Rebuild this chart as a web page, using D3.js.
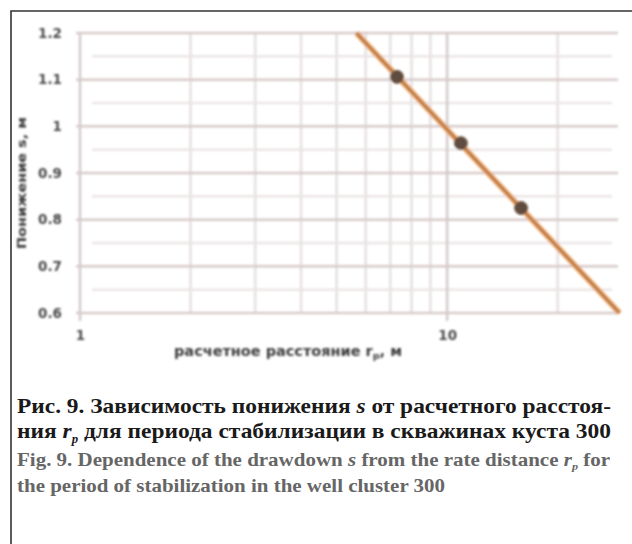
<!DOCTYPE html>
<html><head><meta charset="utf-8">
<script src="https://cdn.jsdelivr.net/npm/d3@7"></script>
<style>body{margin:0;background:#fff}svg{display:block}</style>
</head><body>
<script>
// data
const pointR = [7.3, 10.9, 15.9];          // расчетное расстояние r_p, м
const pointS = [1.106, 0.964, 0.825];      // понижение s, м
const trendR = [5.66, 29.5];               // trend line ends
const trendS = [1.2, 0.6];
const yTicks = [0.6, 0.7, 0.8, 0.9, 1.0, 1.1, 1.2];
const yTickLabels = ["0.6", "0.7", "0.8", "0.9", "1", "1.1", "1.2"];
const xTicks = [1, 10];
const xTickLabels = ["1", "10"];
const xMinor = [2, 3, 4, 5, 6, 7, 8, 9, 20];
const yMinor = [0.65, 0.75, 0.85, 0.95, 1.05, 1.15];

const W = 632, H = 544;
const svg = d3.select("body").append("svg").attr("width", W).attr("height", H);
const defs = svg.append("defs");
defs.append("filter").attr("id", "soft").append("feGaussianBlur").attr("stdDeviation", 0.8);

// frame
svg.append("path").attr("d", "M11,544V11H632").attr("fill", "none")
  .attr("stroke", "#333").attr("stroke-width", 1.6);

const x = d3.scaleLog().domain([1, 29.2]).range([80, 618]);
const y = d3.scaleLinear().domain([0.6, 1.2]).range([313, 33]);

const g = svg.append("g").attr("filter", "url(#soft)");

// vertical minor grid
g.append("g").selectAll("line").data(xMinor).join("line")
  .attr("x1", d => x(d)).attr("x2", d => x(d)).attr("y1", y(1.2)).attr("y2", y(0.6))
  .attr("stroke", "#e6e0e0").attr("stroke-width", 2.5);
// horizontal minor grid
g.append("g").selectAll("line").data(yMinor).join("line")
  .attr("x1", 92).attr("x2", 612).attr("y1", d => y(d)).attr("y2", d => y(d))
  .attr("stroke", "#ebe5e5").attr("stroke-width", 2.5);
// major horizontal
g.append("g").selectAll("line").data(yTicks).join("line")
  .attr("x1", 76).attr("x2", 618).attr("y1", d => y(d)).attr("y2", d => y(d))
  .attr("stroke", "#d8caca").attr("stroke-width", 2.5);
// major vertical
g.append("g").selectAll("line").data(xTicks).join("line")
  .attr("x1", d => x(d)).attr("x2", d => x(d)).attr("y1", y(1.2)).attr("y2", y(0.6) + 8)
  .attr("stroke", "#d4caca").attr("stroke-width", 2.5);

// tick labels via d3 axes (no domain)
const yAxis = d3.axisLeft(y).tickValues(yTicks).tickFormat((d, i) => yTickLabels[i]).tickSize(0).tickPadding(0);
const ya = g.append("g").attr("transform", "translate(62,0)").call(yAxis);
ya.select(".domain").remove();
ya.selectAll("text").attr("font-family", "DejaVu Sans, sans-serif").attr("font-size", 13.5)
  .attr("font-weight", "bold").attr("fill", "#4a4a4a");

const xAxis = d3.axisBottom(x).tickValues(xTicks).tickFormat((d, i) => xTickLabels[i]).tickSize(0).tickPadding(0);
const xa = g.append("g").attr("transform", "translate(0,330)").call(xAxis);
xa.select(".domain").remove();
xa.selectAll("text").attr("font-family", "DejaVu Sans, sans-serif").attr("font-size", 13.5)
  .attr("font-weight", "bold").attr("fill", "#4a4a4a");

// axis titles
g.append("text").attr("transform", "translate(26,183) rotate(-90)").attr("text-anchor", "middle")
  .attr("font-family", "DejaVu Sans, sans-serif").attr("font-size", 13).attr("font-weight", "bold")
  .attr("fill", "#3a3a3a").attr("textLength", 132).attr("lengthAdjust", "spacingAndGlyphs")
  .text("Понижение s, м");
const xt = g.append("text").attr("x", 174).attr("y", 356)
  .attr("font-family", "DejaVu Sans, sans-serif").attr("font-size", 13.5).attr("font-weight", "bold")
  .attr("fill", "#3a3a3a").attr("textLength", 228).attr("lengthAdjust", "spacingAndGlyphs");
xt.append("tspan").text("расчетное расстояние r");
xt.append("tspan").attr("font-size", 9).attr("dy", 3).text("p");
xt.append("tspan").attr("dy", -3).text(", м");

// trend line
const line = d3.line().x(d => x(d[0])).y(d => y(d[1]));
const trend = d3.zip(trendR, trendS);
g.append("path").attr("d", line(trend)).attr("fill", "none").attr("stroke", "#eca363").attr("stroke-width", 5.5);
g.append("path").attr("d", line(trend)).attr("fill", "none").attr("stroke", "#8f6042").attr("stroke-width", 1.5);

// points
g.append("g").selectAll("circle").data(d3.zip(pointR, pointS)).join("circle")
  .attr("cx", d => x(d[0])).attr("cy", d => y(d[1])).attr("r", 6.5)
  .attr("fill", "#5e4c40").attr("stroke", "#7a5c44").attr("stroke-width", 1);

// caption
const cap = svg.append("g").attr("font-family", "'Liberation Serif', 'Times New Roman', serif").attr("font-weight", "bold");
const c1 = cap.append("text").attr("x", 17).attr("y", 413).attr("font-size", 22).attr("fill", "#1a1a1a")
  .attr("textLength", 594).attr("lengthAdjust", "spacingAndGlyphs");
c1.append("tspan").text("Рис. 9. Зависимость понижения ");
c1.append("tspan").attr("font-style", "italic").text("s");
c1.append("tspan").text(" от расчетного расстоя-");
const c2 = cap.append("text").attr("x", 17).attr("y", 438).attr("font-size", 22).attr("fill", "#1a1a1a")
  .attr("textLength", 594).attr("lengthAdjust", "spacingAndGlyphs");
c2.append("tspan").text("ния ");
c2.append("tspan").attr("font-style", "italic").text("r");
c2.append("tspan").attr("font-style", "italic").attr("font-size", 12).attr("dy", 5).text("p");
c2.append("tspan").attr("dy", -5).text(" для периода стабилизации в скважинах куста 300");
const c3 = cap.append("text").attr("x", 17).attr("y", 466).attr("font-size", 19).attr("fill", "#666")
  .attr("textLength", 593).attr("lengthAdjust", "spacingAndGlyphs");
c3.append("tspan").text("Fig. 9. Dependence of the drawdown ");
c3.append("tspan").attr("font-style", "italic").text("s");
c3.append("tspan").text(" from the rate distance ");
c3.append("tspan").attr("font-style", "italic").text("r");
c3.append("tspan").attr("font-style", "italic").attr("font-size", 11).attr("dy", 4).text("p");
c3.append("tspan").attr("dy", -4).text(" for");
cap.append("text").attr("x", 17).attr("y", 492).attr("font-size", 19).attr("fill", "#666")
  .attr("textLength", 428).attr("lengthAdjust", "spacingAndGlyphs")
  .text("the period of stabilization in the well cluster 300");
</script>
</body></html>
